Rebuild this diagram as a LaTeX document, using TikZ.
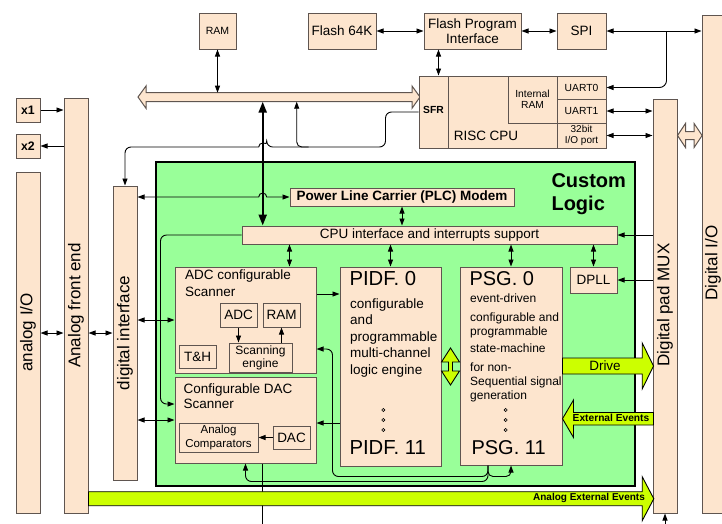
\documentclass[tikz,border=0pt]{standalone}
\usepackage{fontspec}
\setmainfont{Liberation Sans}
\usetikzlibrary{arrows.meta,fit,calc}

\definecolor{peach}{RGB}{253,229,206}
\definecolor{logicgreen}{RGB}{153,255,153}
\definecolor{evgreen}{RGB}{204,255,0}
\definecolor{boxline}{RGB}{95,85,80}

\newcommand\fsz[2]{\fontsize{#1}{#2}\selectfont}

\tikzset{
  arrtip/.tip={Triangle[length=7pt,width=5pt]},
  bigtip/.tip={Triangle[length=11pt,width=8pt]},
  box/.style={draw=boxline, fill=peach, line width=1pt, inner sep=0pt},
  arr/.style={-arrtip, line width=0.9pt},
  dbl/.style={arrtip-arrtip, line width=0.9pt},
  fat/.style={draw=black, fill=evgreen, line width=0.9pt},
  vlabel/.style={rotate=90, font=\fsz{17}{20}},
  small/.style={font=\fsz{10.3}{11.5}},
}

\begin{document}
\begin{tikzpicture}[x=1pt,y=-1pt,every node/.style={font=\fsz{13.5}{16}}]
\useasboundingbox (0,0) rectangle (722,523);
\clip (0,0) rectangle (722,523);

% custom logic area
\node[draw=black, fill=logicgreen, line width=2pt, inner sep=0pt, fit={(156,162) (635,486)}] (custom) {};
\node[anchor=base west, font=\bfseries\fsz{20}{23}] (customtop) at (548,187) {Custom};
\node[anchor=base west, font=\bfseries\fsz{20}{23}] (custombot) at (548,210.5) {Logic};

% system bus
\draw[box] (138,97) -- (146,86) -- (146,92.7) -- (412,92.7) -- (412,86) -- (420,97)
  -- (412,108.3) -- (412,101.7) -- (146,101.7) -- (146,108.3) -- cycle;
\coordinate (busN) at (0,92.7);
\coordinate (busS) at (0,101.7);
\coordinate (spine) at (262.7,0);
\coordinate (tap) at (296.7,147);

% memories and cpu
\node[box, fit={(199,13) (236,49)}] (ram) {};
\node[font=\fsz{10.5}{12}] (ramtxt) at (ram) {RAM};
\node[box, fit={(308,13) (376,49)}] (flash) {};
\node (flashtxt) at (flash) {Flash 64K};
\node[box, fit={(424,13) (521,49)}] (fpi) {};
\node[align=center, font=\fsz{13.5}{14.7}] (fpitxt) at (fpi) {Flash Program\\Interface};
\node[box, fit={(557,13) (606,49)}] (spi) {};
\node (spitxt) at (spi) {SPI};

\node[box, fit={(419,76) (606,148)}] (cpu) {};
\node[box, fit={(419,76) (448,148)}] (sfr) {};
\node[font=\bfseries\fsz{10.3}{12}] (sfrtxt) at ([yshift=2pt]sfr) {SFR};
\node[box, fit={(508,76) (557,123)}] (iram) {};
\node[small, align=center] (iramtxt) at (iram) {Internal\\RAM};
\node[box, fit={(557,76) (606,99)}] (uart0) {};
\node[small] (uart0txt) at (uart0) {UART0};
\node[box, fit={(557,99) (606,123)}] (uart1) {};
\node[small] (uart1txt) at (uart1) {UART1};
\node[box, fit={(557,123) (606,148)}] (iop) {};
\node[align=center, font=\fsz{10}{10.5}] (ioptxt) at (iop) {32bit\\I/O port};
\node (risc) at (486,136) {RISC CPU};

% analog side
\node[box, fit={(16,98) (40,122)}] (x1) {};
\node[font=\bfseries\fsz{12.3}{14}] (x1txt) at (x1) {x1};
\node[box, fit={(16,134) (40,158)}] (x2) {};
\node[font=\bfseries\fsz{12.3}{14}] (x2txt) at (x2) {x2};
\node[box, fit={(16,172) (40,513)}] (aio) {};
\node[box, fit={(64,98) (88,513)}] (afe) {};
\node[box, fit={(113,186) (137,480)}] (dif) {};
\node[vlabel] (aiolbl) at (28,332.5) {analog I/O};
\node[vlabel] (afelbl) at (afe.center) {Analog front end};
\node[vlabel] (diflbl) at (dif.center) {digital interface};

% digital side
\node[box, fit={(653,99) (677,513)}] (mux) {};
\node[box, fit={(702,15) (726,513)}] (dio) {};
\node[vlabel] (muxlbl) at (665,305) {Digital pad MUX};
\node[vlabel] (diolbl) at (713,263) {Digital I/O};

% custom logic blocks
\node[box, fit={(290,188) (514,206)}] (plc) {};
\node[font=\bfseries\fsz{13.5}{16}] (plctxt) at (plc) {Power Line Carrier (PLC) Modem};
\node[box, fit={(242,226) (617,244)}] (cpuif) {};
\node (cpuiftxt) at (cpuif) {CPU interface and interrupts support};

\node[box, fit={(175,267) (316,373)}] (adcs) {};
\node[anchor=base west] (adcst1) at (181.5,279.7) {ADC configurable};
\node[anchor=base west] (adcst2) at (181.5,296.4) {Scanner};
\node[box, fit={(220,303) (257,327)}] (adc) {};
\node (adctxt) at (adc) {ADC};
\node[box, fit={(263,303) (300,327)}] (sram) {};
\node (sramtxt) at (sram) {RAM};
\node[box, fit={(229,343) (292,372)}] (scan) {};
\node[align=center, font=\fsz{12}{13}] (scantxt) at (scan) {Scanning\\engine};
\node[box, fit={(179,345) (216,368)}] (th) {};
\node (thtxt) at (th) {T\&H};

\node[box, fit={(175,377) (316,463)}] (dacs) {};
\node[anchor=base west] (dacst1) at (180,393) {Configurable DAC};
\node[anchor=base west] (dacst2) at (180,408) {Scanner};
\node[box, fit={(179,423) (258,452)}] (comp) {};
\node[align=center, font=\fsz{11.5}{13.5}] (comptxt) at (comp) {Analog\\Comparators};
\node[box, fit={(273,426) (310,449)}] (dac) {};
\node (dactxt) at (dac) {DAC};

\node[box, fit={(340,267) (441,466)}] (pidf) {};
\node[anchor=base west, font=\fsz{20.3}{24}] (pidf0) at (346,285.5) {PIDF. 0};
\foreach \t [count=\i] in {configurable,and,programmable,multi-channel,logic engine}
  \node[anchor=base west] (pidfl\i) at (346.7,{308+16.5*(\i-1)}) {\t};
\node[anchor=base west, font=\fsz{20.3}{24}] (pidf11) at (346,454) {PIDF. 11};

\node[box, fit={(460,267) (562,465)}] (psg) {};
\node[anchor=base west, font=\fsz{20}{24}] (psg0) at (466,285.5) {PSG. 0};
\foreach \t/\y [count=\i] in {event-driven/302.5,configurable and/321,programmable/335.2,
    state-machine/352.5,for non-/371,Sequential signal/385,generation/399.2}
  \node[anchor=base west, font=\fsz{12}{14}] (psgl\i) at (466.7,\y) {\t};
\node[anchor=base west, font=\fsz{20}{24}] (psg11) at (468,454) {PSG. 11};

\foreach \y in {410,420,430} {
  \draw[line width=0.6pt] (383.3,\y) circle (1.6);
  \draw[line width=0.6pt] (505.7,\y) circle (1.6);
}

\node[box, fit={(570,267) (617,293)}] (dpll) {};
\node (dplltxt) at (dpll) {DPLL};

% cpu connections
\draw[dbl] (ram.south) -- (ram.south |- busN);
\draw[dbl] (flash.east) -- (fpi.west);
\draw[dbl] (fpi.east) -- (spi.west);
\draw[dbl] ([xshift=15pt]fpi.south west) -- ([xshift=15pt]fpi.south west |- cpu.north);
\draw[dbl] (spi.east) -- (spi.east -| dio.west);
\draw[arr, rounded corners=7pt] ([xshift=60pt]spi.east) |- (uart0.east);
\draw[dbl] (uart1.east) -- (uart1.east -| mux.west);
\draw[dbl] (iop.east) -- (iop.east -| mux.west);
\draw[box] (mux.east |- iop.east) -- ++(8,-12) -- ++(0,8) -- ++(8.6,0) -- ++(0,-8) -- ++(8,12)
  -- ++(-8,12) -- ++(0,-8) -- ++(-8.6,0) -- ++(0,8) -- cycle;

\draw[line width=2.2pt, bigtip-bigtip] (spine |- busS) -- (spine |- cpuif.north);
\draw[arr, rounded corners=6pt] (sfr.west) -- ++(-33,0) -- ++(0,35) -- ([xshift=4pt]spine |- tap)
  [sharp corners] arc[start angle=0, end angle=-180, radius=4]
  [rounded corners=6pt] -- (dif.north |- tap) -- (dif.north);
\draw[arr, rounded corners=5pt] ([xshift=12pt]tap) -| (tap |- busS);

% analog connections
\draw[arr] (x1.east) -- (x1.east -| afe.west);
\draw[arr] (x2.east -| afe.west) -- (x2.east);
\draw[dbl] (aio.east |- dif.west) -- (afe.west |- dif.west);
\draw[dbl] (afe.east |- dif.west) -- (dif.west);
\draw[dbl] (dif.east |- adcs.west) -- (adcs.west);
\draw[dbl] (dif.east |- dacs.west) -- (dacs.west);
\draw[dbl] (dif.east |- plc.west) -- ([xshift=-4pt]spine |- plc.west)
  arc[start angle=180, end angle=360, radius=4] -- (plc.west);

% custom logic connections
\draw[dbl] (plc.south) -- (plc.south |- cpuif.north);
\draw[arr] (mux.west |- cpuif.east) -- (cpuif.east);
\draw[arr, rounded corners=6pt] (cpuif.west) -- ++(-81,0) |- ([yshift=16pt]dacs.west);
\draw[dbl] ([xshift=-27pt]adcs.north east) -- ([xshift=-27pt]adcs.north east |- cpuif.south);
\draw[dbl] (pidf.north) -- (pidf.north |- cpuif.south);
\draw[dbl] (psg.north) -- (psg.north |- cpuif.south);
\draw[dbl] (dpll.north) -- (dpll.north |- cpuif.south);
\draw[arr] (mux.west |- dpll.east) -- (dpll.east);

\draw[arr] ([yshift=26pt]adcs.east) -- ([yshift=26pt]adcs.east -| pidf.west);
\draw[arr] ([yshift=-3pt]dacs.east -| pidf.west) -- ([yshift=-3pt]dacs.east);
\draw[arr] (adc.south) -- (adc.south |- scan.north);
\draw[arr] (sram.south |- scan.north) -- (sram.south);
\draw[arr] (dac.west) -- (dac.west -| comp.east);

\coordinate (psgout) at ([xshift=-23pt]psg.south);
\draw[arr, rounded corners=6pt] (psgout) -- ++(0,11) -| ([xshift=16pt,yshift=-29pt]adcs.east)
  -- ([yshift=-29pt]adcs.east);
\draw[arr, rounded corners=6pt] (psgout) -- ++(0,16) -| (dacs.south);
\draw[arr, rounded corners=5pt] (psgout) -- ++(0,11) -| (psg.south);
\draw[line width=0.9pt] (spine |- dacs.south) -- ++(0,62);
\draw[arr] ([yshift=-12pt]mux.south) -- (mux.south);

% signal arrows
\draw[fat] (450.5,348) -- ++(9,14) -- ++(-7,0) -- ++(0,9) -- ++(7,0) -- ++(-9,14)
  -- ++(-9,-14) -- ++(7,0) -- ++(0,-9) -- ++(-7,0) -- cycle;
\draw[fat] (psg.east) ++(0,-8) -- ++(79.7,0) -- ++(0,-15) -- ++(11.3,23) -- ++(-11.3,23)
  -- ++(0,-15) -- ++(-79.7,0) -- cycle;
\node (drivelbl) at ([xshift=42.5pt]psg.east) {Drive};
\draw[fat] (psg.east |- 0,418.7) -- ++(11,-18.7) -- ++(0,12.5) -- ++(80,0) -- ++(0,12.5)
  -- ++(-80,0) -- ++(0,12.5) -- cycle;
\node[font=\bfseries\fsz{10.2}{12}] (exevlbl) at (611,418) {External Events};
\draw[fat] (afe.east |- 0,491.7) -- ++(553.7,0) -- ++(0,-15) -- ++(11.6,22) -- ++(-11.6,22)
  -- ++(0,-15) -- ++(-553.7,0) -- cycle;
\node[font=\bfseries\fsz{10}{12}] (aexevlbl) at (589,497.7) {Analog External Events};
\end{tikzpicture}
\end{document}
